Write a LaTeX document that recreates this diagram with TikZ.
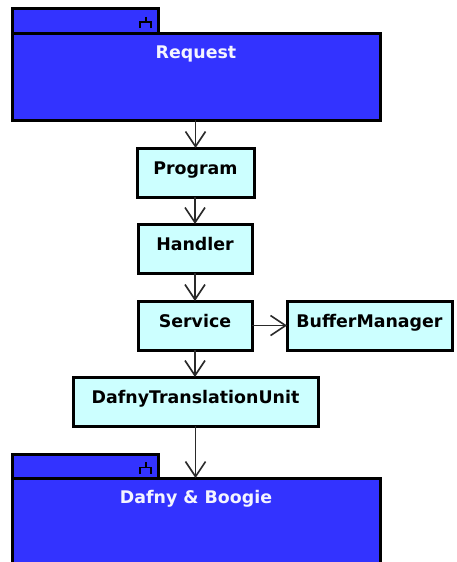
\documentclass[tikz,border=0pt]{standalone}
\usepackage{fontspec}
\setmainfont{DejaVu Sans}
\usetikzlibrary{arrows.meta}
\definecolor{pkgblue}{HTML}{3333FF}
\definecolor{clsfill}{HTML}{CCFFFF}
\definecolor{pkgtext}{HTML}{F4F4FF}
\definecolor{wire}{HTML}{2A2A2A}
\tikzset{
  pkg/.style={draw=black, fill=pkgblue, line width=3pt, rectangle, inner sep=0pt, outer sep=0pt},
  cls/.style={draw=black, fill=clsfill, line width=3pt, rectangle, inner sep=0pt, outer sep=0pt, minimum height=49pt},
  lbl/.style={anchor=base, inner sep=0pt, font=\bfseries\fontsize{17.4}{20}\selectfont},
  pkglbl/.style={lbl, text=pkgtext},
  dep/.style={draw=wire, line width=1.6pt, -{Straight Barb[length=15pt, width=20pt, line width=1.6pt]}},
  forkmark/.style={draw=black, line width=1.5pt}
}
\begin{document}
\begin{tikzpicture}[x=1pt, y=-1pt]
\useasboundingbox (0,0) rectangle (456,562);
\clip (0,0) rectangle (456,562);
\fill[white] (0,0) rectangle (456,562);

% Request package
\draw[pkg] (12,8) rectangle (158,33);
\node[pkg, minimum width=368pt, minimum height=87pt] (req) at (196,76.5) {};
\node[pkglbl] (reqlbl) at ([yshift=-25pt]req.north) {Request};
\draw[forkmark] (146,16.5) -- (146,22) (140,28) -- (140,22) -- (151,22) -- (151,28);

% classes
\node[cls, minimum width=117pt] (prog) at (195.5,172.5) {};
\node[lbl] (proglbl) at ([yshift=-26pt]prog.north) {Program};

\node[cls, minimum width=114pt] (hand) at (195,248.5) {};
\node[lbl] (handlbl) at ([yshift=-26pt]hand.north) {Handler};

\node[cls, minimum width=114pt] (serv) at (195,325.5) {};
\node[lbl] (servlbl) at ([yshift=-26pt]serv.north) {Service};

\node[cls, minimum width=165pt] (buf) at (369.5,325.5) {};
\node[lbl] (buflbl) at ([yshift=-26pt]buf.north) {BufferManager};

\node[cls, minimum width=245pt] (dtu) at (195.5,401.5) {};
\node[lbl] (dtulbl) at ([yshift=-26pt]dtu.north) {DafnyTranslationUnit};

% Dafny & Boogie package
\draw[pkg] (12,454) rectangle (158,478);
\node[pkg, minimum width=368pt, minimum height=140pt] (dafny) at (196,548) {};
\node[pkglbl] (dafnylbl) at ([yshift=-25pt]dafny.north) {Dafny \& Boogie};
\draw[forkmark] (146,462) -- (146,467.5) (140,473.5) -- (140,467.5) -- (151,467.5) -- (151,473.5);

% dependencies
\draw[dep] (prog.north |- req.south) -- (prog.north);
\draw[dep] (hand.north |- prog.south) -- (hand.north);
\draw[dep] (serv.north |- hand.south) -- (serv.north);
\draw[dep] (serv.east) -- (buf.west);
\draw[dep] (serv.south) -- (serv.south |- dtu.north);
\draw[dep] (dtu.south) -- (dtu.south |- dafny.north);
\end{tikzpicture}
\end{document}
